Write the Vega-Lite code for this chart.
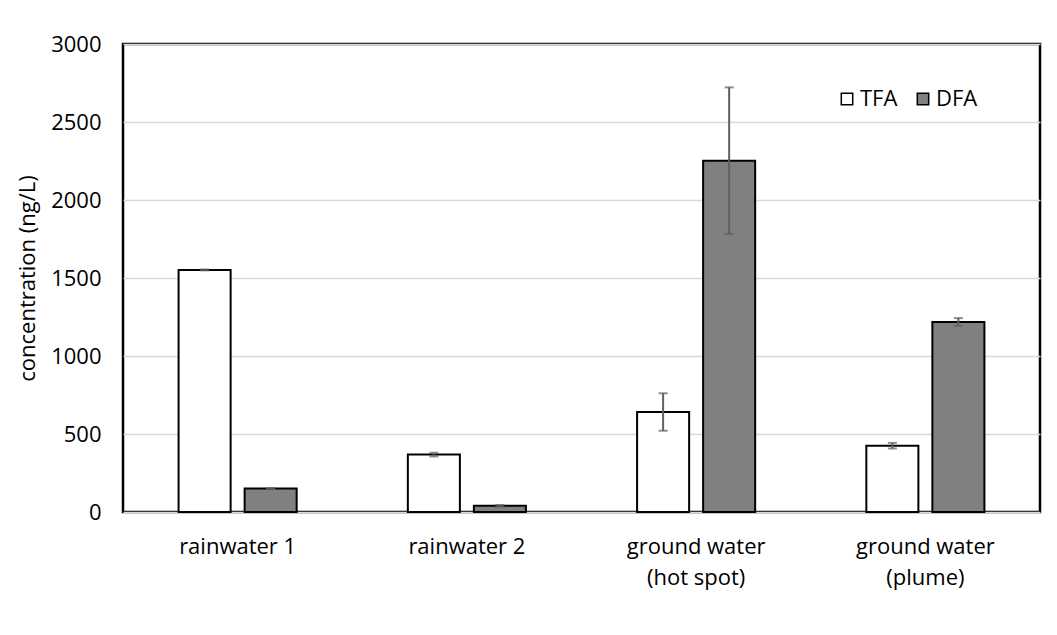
{
  "$schema": "https://vega.github.io/schema/vega-lite/v6.json",
  "autosize": "none",
  "padding": {"left": 123, "top": 44, "right": 17, "bottom": 123},
  "width": 917,
  "height": 468,
  "background": "white",
  "config": {
    "font": "Open Sans",
    "view": {"stroke": "#000000", "strokeWidth": 2.5},
    "axis": {"labelFont": "Open Sans", "titleFont": "Open Sans", "labelColor": "#000000", "titleColor": "#000000"}
  },
  "data": {
    "values": [
      {"sample": "rainwater 1", "series": "TFA", "value": 1552, "lo": 1549, "hi": 1555},
      {"sample": "rainwater 1", "series": "DFA", "value": 150, "lo": 147, "hi": 153},
      {"sample": "rainwater 2", "series": "TFA", "value": 368, "lo": 356, "hi": 380},
      {"sample": "rainwater 2", "series": "DFA", "value": 40, "lo": 35, "hi": 45},
      {"sample": "ground water|(hot spot)", "series": "TFA", "value": 641, "lo": 521, "hi": 761},
      {"sample": "ground water|(hot spot)", "series": "DFA", "value": 2252, "lo": 1782, "hi": 2722},
      {"sample": "ground water|(plume)", "series": "TFA", "value": 425, "lo": 407, "hi": 443},
      {"sample": "ground water|(plume)", "series": "DFA", "value": 1218, "lo": 1193, "hi": 1243}
    ]
  },
  "encoding": {
    "x": {
      "field": "sample", "type": "nominal", "sort": null,
      "scale": {"paddingInner": 0.485, "paddingOuter": 0.2425},
      "axis": {
        "title": null, "labelAngle": 0, "ticks": false, "domain": false, "grid": false,
        "labelFontSize": 22, "labelPadding": 24, "labelLineHeight": 31,
        "labelExpr": "split(datum.label, '|')"
      }
    },
    "xOffset": {
      "field": "series", "type": "nominal", "sort": ["TFA", "DFA"],
      "scale": {"domain": ["TFA", "DFA"], "paddingInner": 0.212, "paddingOuter": 0}
    }
  },
  "layer": [
    {
      "mark": {"type": "bar", "stroke": "#000000", "strokeWidth": 2},
      "encoding": {
        "y": {
          "field": "value", "type": "quantitative",
          "scale": {"domain": [0, 3000], "nice": false},
          "axis": {
            "values": [0, 500, 1000, 1500, 2000, 2500, 3000], "format": "d",
            "title": "concentration (ng/L)", "titleFontSize": 22, "titleFontWeight": "normal",
            "titlePadding": 11,
            "labelFontSize": 22, "labelPadding": 22, "ticks": false, "domain": false,
            "grid": true, "gridColor": "#d9d9d9", "gridWidth": 1.5
          }
        },
        "fill": {
          "field": "series", "type": "nominal",
          "scale": {"domain": ["TFA", "DFA"], "range": ["#ffffff", "#808080"]},
          "legend": {
            "title": null, "orient": "none", "direction": "horizontal",
            "legendX": 713, "legendY": 44,
            "symbolType": "square", "symbolSize": 130, "symbolStrokeColor": "#000000",
            "symbolStrokeWidth": 1.5, "labelFontSize": 22, "labelFont": "Open Sans",
            "labelColor": "#000000", "labelOffset": 2, "columnPadding": 14
          }
        }
      }
    },
    {
      "mark": {"type": "rule", "color": "#606060", "strokeWidth": 2},
      "encoding": {
        "y": {"field": "lo", "type": "quantitative"},
        "y2": {"field": "hi"}
      }
    },
    {
      "mark": {"type": "tick", "color": "#606060", "thickness": 2, "size": 9},
      "encoding": {
        "y": {"field": "lo", "type": "quantitative"}
      }
    },
    {
      "mark": {"type": "tick", "color": "#606060", "thickness": 2, "size": 9},
      "encoding": {
        "y": {"field": "hi", "type": "quantitative"}
      }
    }
  ]
}
